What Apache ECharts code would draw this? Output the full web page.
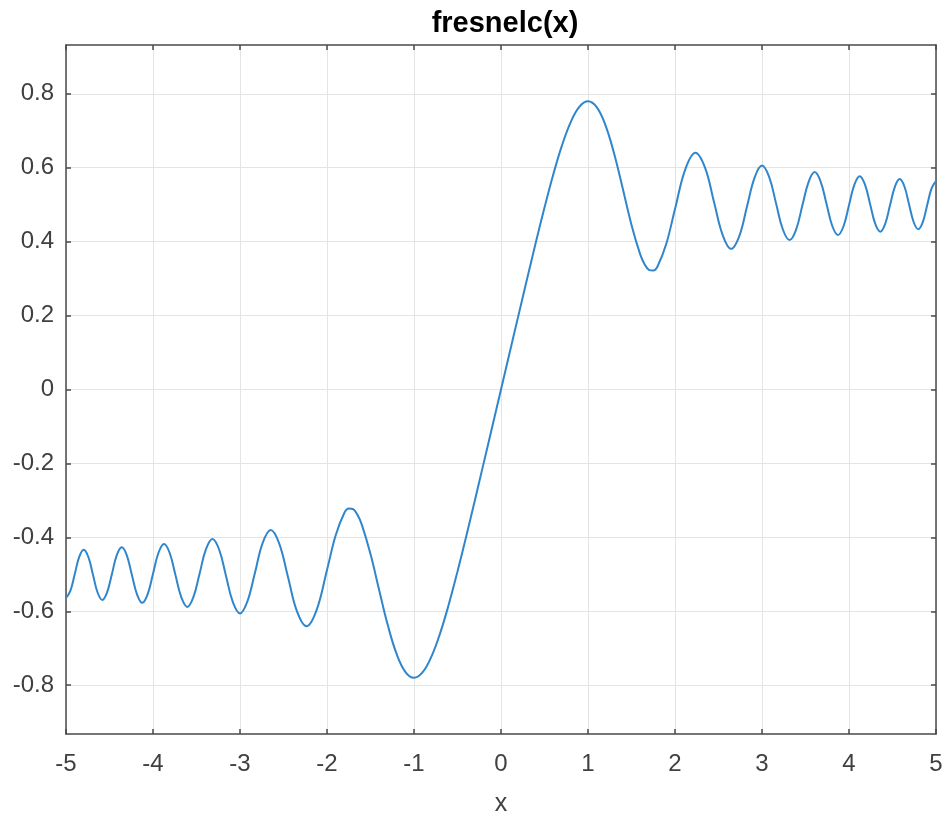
<!DOCTYPE html>
<html>
<head>
<meta charset="utf-8">
<script src="https://cdn.jsdelivr.net/npm/echarts@6/dist/echarts.min.js"></script>
<style>
html,body{margin:0;padding:0;background:#fff;}
#chart{width:943px;height:817px;}
</style>
</head>
<body>
<div id="chart"></div>
<script>
// x positions and fresnelc(x) values
const xValues = [
  -5.000, -4.950, -4.899, -4.848, -4.796, -4.743, -4.690, -4.637, -4.583, -4.528,
  -4.472, -4.416, -4.359, -4.301, -4.243, -4.183, -4.123, -4.062, -4.000, -3.937,
  -3.873, -3.808, -3.742, -3.674, -3.606, -3.536, -3.464, -3.391, -3.317, -3.240,
  -3.162, -3.082, -3.000, -2.916, -2.828, -2.739, -2.646, -2.550, -2.449, -2.345,
  -2.236, -2.121, -2.0, -1.9, -1.8, -1.75, -1.7, -1.65, -1.6, -1.5, -1.4, -1.3,
  -1.2, -1.1, -1.0, -0.9, -0.8, -0.7, -0.6, -0.5, -0.4, -0.3,
  -0.2, -0.1, 0.0,
  0.1, 0.2, 0.3, 0.4, 0.5, 0.6, 0.7, 0.8, 0.9, 1.0,
  1.1, 1.2, 1.3, 1.4, 1.5, 1.6, 1.65, 1.7, 1.75, 1.8, 1.9, 2.0,
  2.121, 2.236, 2.345, 2.449, 2.550, 2.646, 2.739, 2.828, 2.916, 3.000,
  3.082, 3.162, 3.240, 3.317, 3.391, 3.464, 3.536, 3.606, 3.674, 3.742,
  3.808, 3.873, 3.937, 4.000, 4.062, 4.123, 4.183, 4.243, 4.301, 4.359,
  4.416, 4.472, 4.528, 4.583, 4.637, 4.690, 4.743, 4.796, 4.848, 4.899,
  4.950, 5.000
];
const yValues = [
  -0.5637, -0.5449, -0.4991, -0.4530, -0.4337, -0.4532, -0.5010, -0.5492, -0.5694, -0.5489,
  -0.4989, -0.4482, -0.4270, -0.4486, -0.5013, -0.5547, -0.5771, -0.5543, -0.4984, -0.4417,
  -0.4179, -0.4423, -0.5019, -0.5626, -0.5881, -0.5619, -0.4976, -0.4320, -0.4043, -0.4328,
  -0.5032, -0.5752, -0.6057, -0.5741, -0.4956, -0.4149, -0.3804, -0.4165, -0.5066, -0.6003,
  -0.6406, -0.5976, -0.4882, -0.3944, -0.3336, -0.3219, -0.3238, -0.3390, -0.3655, -0.4453, -0.5431, -0.6386,
  -0.7154, -0.7638, -0.7799, -0.7648, -0.7228, -0.6597, -0.5811, -0.4923, -0.3975, -0.2994,
  -0.1999, -0.1000, 0.0000,
  0.1000, 0.1999, 0.2994, 0.3975, 0.4923, 0.5811, 0.6597, 0.7228, 0.7648, 0.7799,
  0.7638, 0.7154, 0.6386, 0.5431, 0.4453, 0.3655, 0.3390, 0.3238, 0.3219, 0.3336, 0.3944, 0.4882,
  0.5976, 0.6406, 0.6003, 0.5066, 0.4165, 0.3804, 0.4149, 0.4956, 0.5741, 0.6057,
  0.5752, 0.5032, 0.4328, 0.4043, 0.4320, 0.4976, 0.5619, 0.5881, 0.5626, 0.5019,
  0.4423, 0.4179, 0.4417, 0.4984, 0.5543, 0.5771, 0.5547, 0.5013, 0.4486, 0.4270,
  0.4482, 0.4989, 0.5489, 0.5694, 0.5492, 0.5010, 0.4532, 0.4337, 0.4530, 0.4991,
  0.5449, 0.5637
];
const yTicks = [-0.8, -0.6, -0.4, -0.2, 0, 0.2, 0.4, 0.6, 0.8];
const yLimit = 0.932;
const titleText = 'fresnelc(x)';
const xLabel = 'x';

const points = xValues.map((x, i) => [x, yValues[i]]);
const axisColor = '#4a4a4a';
const textColor = '#404040';
const gridColor = '#e4e4e4';
const font = 'Liberation Sans, Arial, Helvetica, sans-serif';

const chart = echarts.init(document.getElementById('chart'), null, {renderer: 'canvas'});
const xCommon = {
  type: 'value', min: -5, max: 5, interval: 1,
  axisLine: {show: true, onZero: false, lineStyle: {color: axisColor, width: 1.5}},
  axisTick: {show: true, inside: true, length: 5, lineStyle: {color: axisColor, width: 1.5}},
};
const yCommon = {
  type: 'value', min: -yLimit, max: yLimit,
  axisLine: {show: true, onZero: false, lineStyle: {color: axisColor, width: 1.5}},
  axisTick: {show: true, inside: true, length: 5, customValues: yTicks, lineStyle: {color: axisColor, width: 1.5}},
};
chart.setOption({
  backgroundColor: '#fff',
  animation: false,
  title: {
    text: titleText, left: 500, textAlign: 'center', top: 4,
    textStyle: {fontFamily: font, fontSize: 29, fontWeight: 'bold', color: '#000'}
  },
  grid: {left: 66, right: 7, top: 45, bottom: 83, containLabel: false, outerBoundsMode: 'none'},
  xAxis: [
    Object.assign({}, xCommon, {
      position: 'bottom',
      name: xLabel, nameLocation: 'middle', nameGap: 58,
      nameTextStyle: {fontFamily: font, fontSize: 25, color: textColor},
      axisLabel: {show: true, margin: 18, fontFamily: font, fontSize: 24, color: textColor},
      splitLine: {show: true, lineStyle: {color: gridColor, width: 1}}
    }),
    Object.assign({}, xCommon, {
      position: 'top',
      axisLabel: {show: false},
      splitLine: {show: false}
    })
  ],
  yAxis: [
    Object.assign({}, yCommon, {
      position: 'left',
      axisLabel: {show: true, margin: 12, fontFamily: font, fontSize: 24, color: textColor,
        customValues: yTicks, formatter: v => String(Math.round(v * 10) / 10)},
      splitLine: {show: true, lineStyle: {color: gridColor, width: 1}}
    }),
    Object.assign({}, yCommon, {
      position: 'right',
      axisLabel: {show: false},
      splitLine: {show: false}
    })
  ],
  series: [{
    type: 'line',
    data: points,
    xAxisIndex: 0, yAxisIndex: 0,
    showSymbol: false,
    smooth: 0.4,
    lineStyle: {color: '#2f86cc', width: 2},
    itemStyle: {color: '#2f86cc'}
  }]
});
</script>
</body>
</html>
